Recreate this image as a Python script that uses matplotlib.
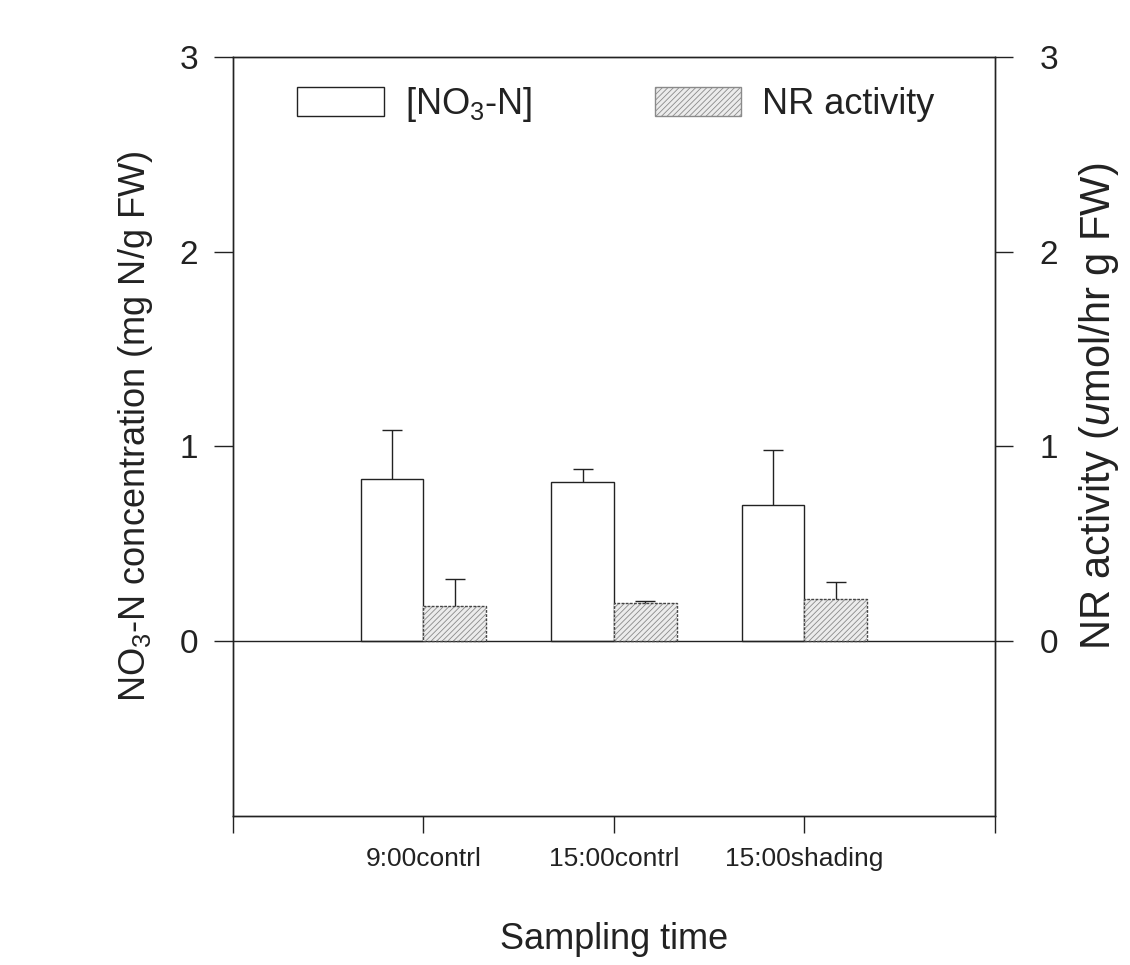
import matplotlib
matplotlib.use('Agg')
import matplotlib.pyplot as plt
from matplotlib.patches import Patch
import numpy as np

# ---- data ----
categories = ['9:00contrl', '15:00contrl', '15:00shading']
no3_values = [0.83, 0.815, 0.70]
no3_err = [0.255, 0.07, 0.28]
nr_values = [0.18, 0.195, 0.215]
nr_err = [0.14, 0.01, 0.085]
y_ticks = [0, 1, 2, 3]

plt.rcParams['font.family'] = ['Liberation Sans', 'DejaVu Sans']
plt.rcParams['mathtext.fontset'] = 'custom'
plt.rcParams['mathtext.rm'] = 'Liberation Sans'
plt.rcParams['mathtext.it'] = 'Liberation Sans:italic'
plt.rcParams['hatch.linewidth'] = 0.6

ink = '#222222'
fig = plt.figure(figsize=(11.3, 9.65), dpi=100)
ax = fig.add_axes([0.2062, 0.1544, 0.6743, 0.7865])
ax2 = ax.twinx()

pos = np.arange(1, len(categories) + 1)
w = 0.33

# NO3 bars (left axis)
ax.bar(pos - w / 2, no3_values, w, color='white', edgecolor=ink, linewidth=1.0, zorder=2)
eb = ax.errorbar(pos - w / 2, no3_values, yerr=[np.zeros(len(pos)), no3_err], fmt='none',
                 ecolor=ink, elinewidth=1.0, capsize=7.5, capthick=1.0, zorder=3)
eb[1][0].set_visible(False)

# NR bars (right axis)
ax2.bar(pos + w / 2, nr_values, w, color='#ececec', edgecolor='#8a8a8a', linewidth=0,
        hatch='//////', zorder=2)
ax2.bar(pos + w / 2, nr_values, w, fill=False, edgecolor='#444444', linewidth=1.0,
        linestyle=(0, (2, 1)), zorder=3)
eb2 = ax2.errorbar(pos + w / 2, nr_values, yerr=[np.zeros(len(pos)), nr_err], fmt='none',
                   ecolor=ink, elinewidth=1.0, capsize=7.5, capthick=1.0, zorder=3)
eb2[1][0].set_visible(False)

ax.axhline(0, color=ink, linewidth=1.0, zorder=4)

for a in (ax, ax2):
    a.set_xlim(0, len(categories) + 1)
    a.set_ylim(-0.9, 3)
    a.set_yticks(y_ticks)
    for s in a.spines.values():
        s.set_color(ink)
        s.set_linewidth(1.0)

ax.set_xticks(np.arange(0, len(categories) + 2))
ax.set_xticklabels([''] + categories + [''], fontsize=19)
ax.tick_params(axis='x', direction='out', length=12, width=1, color=ink, pad=10, labelcolor=ink)
ax.tick_params(axis='y', direction='out', length=14, width=1, color=ink, pad=11,
               labelsize=24, labelcolor=ink)
ax2.tick_params(axis='y', direction='out', length=13, width=1, color=ink, pad=19,
                labelsize=24, labelcolor=ink)

ax.set_ylabel('NO$_3$-N concentration (mg N/g FW)', fontsize=26, color=ink, labelpad=18)
ax.yaxis.label.set_y(0.514)
ax2.set_ylabel('NR activity ($u$mol/hr g FW)', fontsize=30, color=ink, labelpad=14)
ax2.yaxis.label.set_y(0.54)
ax.set_xlabel('Sampling time', fontsize=26, color=ink, labelpad=37)

handles = [Patch(facecolor='white', edgecolor=ink, linewidth=1.0),
           Patch(facecolor='#ececec', edgecolor='#8a8a8a', hatch='//////', linewidth=1.0)]
leg = ax2.legend(handles, ['[NO$_3$-N]', 'NR activity'], ncol=2, frameon=False,
                 loc='center left', bbox_to_anchor=(0.084, 0.937), borderpad=0,
                 borderaxespad=0, fontsize=26, handlelength=2.4, handleheight=0.85,
                 handletextpad=0.58, columnspacing=3.4)
for t in leg.get_texts():
    t.set_color(ink)

fig.savefig('out.png', dpi=100)
